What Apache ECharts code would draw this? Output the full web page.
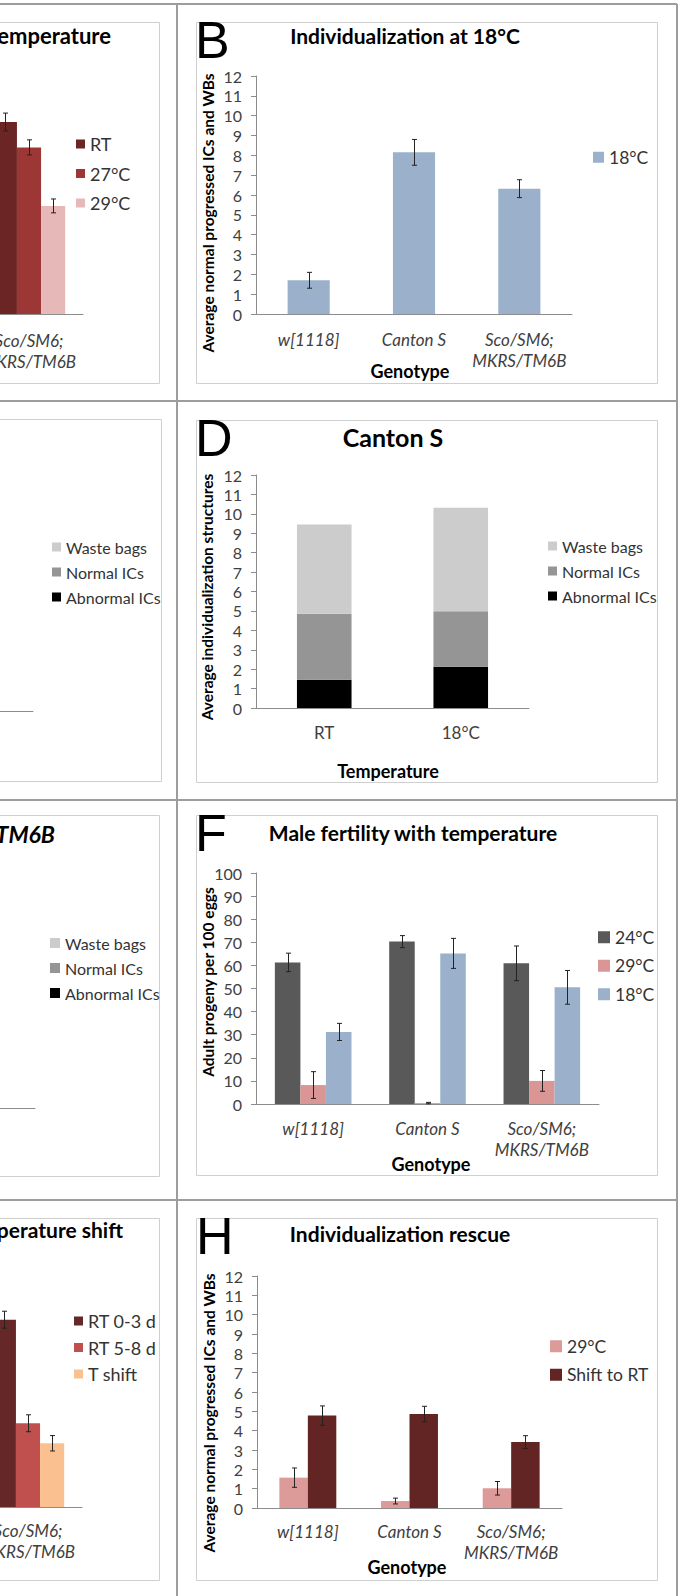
<!DOCTYPE html>
<html><head><meta charset="utf-8">
<script src="https://cdn.jsdelivr.net/npm/echarts@6/dist/echarts.min.js"></script>
<style>
html,body{margin:0;padding:0;background:#fff;width:694px;height:1596px;overflow:hidden;position:relative;}
.p{position:absolute;left:0;top:0;width:694px;height:1596px;}
</style></head><body>
<div id="bg" class="p"></div>
<div id="pA" class="p"></div><div id="pB" class="p"></div>
<div id="pC" class="p"></div><div id="pD" class="p"></div>
<div id="pE" class="p"></div><div id="pF" class="p"></div>
<div id="pG" class="p"></div><div id="pH" class="p"></div>
<script>
// ---------- data ----------
const genotypes = ['w[1118]', 'Canton S', 'Sco/SM6;\nMKRS/TM6B'];
const temperatures = ['RT', '18°C'];
const countAxis = [0, 12, 1];      // min, max, step
const fertAxis = [0, 100, 10];

// A (only last group visible)
const A_RT = [null, null, 9.68], A_RT_err = [null, null, 0.45];
const A_27 = [null, null, 8.4],  A_27_err = [null, null, 0.38];
const A_29 = [null, null, 5.45], A_29_err = [null, null, 0.35];
// B
const B_18 = [1.7, 8.15, 6.32], B_18_err = [0.4, 0.65, 0.45];
// C (bars not visible)
const C_abn = [null, null], C_norm = [null, null], C_waste = [null, null];
// D
const D_abn = [1.45, 2.13], D_norm = [3.41, 2.85], D_waste = [4.59, 5.33];
// E (bars not visible)
const E_abn = [null, null], E_norm = [null, null], E_waste = [null, null];
// F
const F_24 = [61.3, 70.3, 60.9], F_24_err = [4.0, 2.6, 7.5];
const F_29 = [8.2, 0.4, 10.0],   F_29_err = [5.8, 0.3, 4.5];
const F_18 = [31.2, 65.2, 50.5], F_18_err = [3.7, 6.5, 7.3];
// G (only last group visible)
const G_03 = [null, null, 9.73], G_03_err = [null, null, 0.44];
const G_58 = [null, null, 4.35], G_58_err = [null, null, 0.44];
const G_ts = [null, null, 3.31], G_ts_err = [null, null, 0.40];
// H
const H_29 = [1.57, 0.36, 1.02], H_29_err = [0.5, 0.15, 0.35];
const H_sh = [4.78, 4.86, 3.41], H_sh_err = [0.5, 0.4, 0.33];

// ---------- helpers ----------
const FONT = 'Lato, "Open Sans", "DejaVu Sans", sans-serif';
const LETTER_FONT = '"Liberation Sans Narrow", "Liberation Sans", Arial, sans-serif';
const AX = '#8c8c8c', TXT = '#404040';

function errRenderer(k, n, gap) {
  return function (params, api) {
    const ci = api.value(0), m = api.value(1), e = api.value(2);
    const c = api.coord([ci, m]);
    const cw = api.size([1, 0])[0];
    const band = cw * (1 - gap), bw = band / n;
    const x = Math.round(c[0] - band / 2 + bw * (k + 0.5)) + 0.5;
    const yt = api.coord([ci, m + e])[1], yb = api.coord([ci, m - e])[1];
    const st = { stroke: '#222', lineWidth: 1 };
    return { type: 'group', children: [
      { type: 'line', shape: { x1: x, y1: yt, x2: x, y2: yb }, style: st },
      { type: 'line', shape: { x1: x - 2.5, y1: yt, x2: x + 2.5, y2: yt }, style: st },
      { type: 'line', shape: { x1: x - 2.5, y1: yb, x2: x + 2.5, y2: yb }, style: st }
    ]};
  };
}

// Left-column panels are cut by the figure edge: their canvas starts DX px left of the page.
const DX = 400;

function makePanel(id, c) {
  const dx = c.left ? DX : 0;
  const el = document.getElementById(id);
  const W = c.left ? 177 + DX : 694;
  el.style.left = (-dx) + 'px';
  el.style.width = W + 'px';
  const chart = echarts.init(el, null, { renderer: 'svg', width: W, height: 1596 });
  const n = c.stack ? 1 : c.series.length;
  const series = [];
  c.series.forEach(s => {
    series.push({ type: 'bar', name: s.name, data: s.data, stack: c.stack ? 'all' : null,
      barGap: '0%', barCategoryGap: Math.round(c.gap * 100) + '%',
      itemStyle: { color: s.color }, silent: true });
  });
  c.series.forEach((s, k) => {
    if (!s.err) return;
    const d = [];
    s.data.forEach((v, i) => { if (v != null && s.err[i] != null) d.push([i, v, s.err[i]]); });
    series.push({ type: 'custom', data: d, z: 5, silent: true, renderItem: errRenderer(k, n, c.gap) });
  });
  const g = [];
  const b = c.box;
  g.push({ type: 'rect', shape: { x: b[0] + dx + 0.5, y: b[1] + 0.5, width: b[2] - b[0], height: b[3] - b[1] },
    style: { fill: 'none', stroke: '#cfcfcf', lineWidth: 1 }, z: -1 });
  if (c.letter) g.push({ type: 'text', x: c.letter.x + dx, y: c.letter.y,
    style: { text: c.letter.text, font: '52px ' + LETTER_FONT, fill: '#000', align: 'left', verticalAlign: 'middle' } });
  if (c.title) g.push({ type: 'text', x: c.title.x + dx, y: c.title.y,
    style: { text: c.title.text, font: (c.title.italic ? 'italic ' : '') + 'bold ' + c.title.size + 'px ' + FONT,
      fill: '#000', align: c.title.align || 'center', verticalAlign: 'middle' } });
  if (c.yName) g.push({ type: 'text', x: c.yName.x + dx, y: c.yName.y, rotation: Math.PI / 2,
    style: { text: c.yName.text, font: 'bold 15.5px ' + FONT, fill: '#000', align: 'center', verticalAlign: 'middle' } });
  if (c.xName) g.push({ type: 'text', x: c.xName.x + dx, y: c.xName.y,
    style: { text: c.xName.text, font: 'bold 18px ' + FONT, fill: '#000', align: 'center', verticalAlign: 'middle' } });
  const L = c.legend;
  // in cut-off panels only the labels that fall inside the figure are drawn
  const shownCats = c.shownCats;
  chart.setOption({
    animation: false,
    grid: { left: c.grid[0] + dx, top: c.grid[1], width: c.grid[2], height: c.grid[3], containLabel: false },
    xAxis: { type: 'category', data: c.cats,
      axisLine: { lineStyle: { color: AX } },
      axisTick: { length: 5, lineStyle: { color: AX } },
      axisLabel: { show: !shownCats || shownCats.length > 0,
        formatter: (v, i) => (!shownCats || shownCats.indexOf(i) >= 0) ? v : '',
        margin: c.labelMargin, interval: 0, fontFamily: FONT, fontSize: 17, lineHeight: 21,
        fontStyle: c.italic ? 'italic' : 'normal', color: TXT } },
    yAxis: { type: 'value', min: c.axis[0], max: c.axis[1], interval: c.axis[2],
      splitLine: { show: false },
      axisLine: { show: true, lineStyle: { color: AX } },
      axisTick: { show: true, length: 5, lineStyle: { color: AX } },
      axisLabel: { show: !c.left, margin: 14, fontFamily: FONT, fontSize: 16, color: TXT } },
    legend: { orient: 'vertical', left: L.left + dx, top: L.first - L.font / 2, padding: 0,
      itemWidth: L.size, itemHeight: L.size, itemGap: L.spacing - L.font, icon: 'rect',
      selectedMode: false, data: c.legendOrder || c.series.map(s => s.name),
      textStyle: { fontFamily: FONT, fontSize: L.font, color: '#333' } },
    graphic: g,
    series: series
  });
}

// ---------- background cell lines ----------
const bg = echarts.init(document.getElementById('bg'), null, { renderer: 'svg', width: 694, height: 1596 });
const cellLines = [[0, 4, 677, 4], [0, 401, 677, 401], [0, 800, 677, 800], [0, 1200, 677, 1200],
  [177, 4, 177, 1596], [677, 4, 677, 1596]];
bg.setOption({ animation: false, graphic: cellLines.map(l => ({ type: 'line',
  shape: { x1: l[0], y1: l[1], x2: l[2], y2: l[3] }, style: { stroke: '#9d9d9d', lineWidth: 2 } })) });

// ---------- panels ----------
makePanel('pA', { left: true, shownCats: [2], grid: [-241, 76, 324, 238], axis: countAxis, cats: genotypes, italic: true, labelMargin: 15.5, gap: 0.33,
  series: [{ name: 'RT', data: A_RT, err: A_RT_err, color: '#6a2524' },
           { name: '27°C', data: A_27, err: A_27_err, color: '#9c3736' },
           { name: '29°C', data: A_29, err: A_29_err, color: '#e6b9b8' }],
  legend: { left: 76, first: 144, spacing: 29.5, size: 9, font: 18 },
  title: { text: 'temperature', x: 111, y: 35, align: 'right', size: 22 },
  box: [-20, 22, 159, 383] });

makePanel('pB', { grid: [256, 76, 316, 238], axis: countAxis, cats: genotypes, italic: true, labelMargin: 14.5, gap: 0.6,
  series: [{ name: '18°C', data: B_18, err: B_18_err, color: '#9bb0cb' }],
  legend: { left: 593, first: 157, spacing: 28, size: 11, font: 17.5 },
  title: { text: 'Individualization at 18°C', x: 405, y: 35, size: 21 },
  letter: { text: 'B', x: 195, y: 40 },
  yName: { text: 'Average normal progressed ICs and WBs', x: 208, y: 213 },
  xName: { text: 'Genotype', x: 410, y: 371 },
  box: [196, 22, 657, 383] });

makePanel('pC', { left: true, shownCats: [], grid: [-239, 478, 272, 233], axis: countAxis, cats: temperatures, italic: false, labelMargin: 16.5, gap: 0.6, stack: true,
  series: [{ name: 'Abnormal ICs', data: C_abn, color: '#000000' },
           { name: 'Normal ICs', data: C_norm, color: '#959595' },
           { name: 'Waste bags', data: C_waste, color: '#cccccc' }],
  legendOrder: ['Waste bags', 'Normal ICs', 'Abnormal ICs'],
  legend: { left: 52, first: 547, spacing: 25, size: 9, font: 16 },
  box: [-20, 419, 161, 781] });

makePanel('pD', { grid: [256, 475, 273, 233], axis: countAxis, cats: temperatures, italic: false, labelMargin: 13.5, gap: 0.6, stack: true,
  series: [{ name: 'Abnormal ICs', data: D_abn, color: '#000000' },
           { name: 'Normal ICs', data: D_norm, color: '#959595' },
           { name: 'Waste bags', data: D_waste, color: '#cccccc' }],
  legendOrder: ['Waste bags', 'Normal ICs', 'Abnormal ICs'],
  legend: { left: 548, first: 546, spacing: 25, size: 9, font: 16 },
  title: { text: 'Canton S', x: 393, y: 437, size: 25 },
  letter: { text: 'D', x: 195, y: 438 },
  yName: { text: 'Average individualization structures', x: 207, y: 597 },
  xName: { text: 'Temperature', x: 388, y: 771 },
  box: [196, 420, 657, 782] });

makePanel('pE', { left: true, shownCats: [], grid: [-237, 875, 272, 233], axis: countAxis, cats: temperatures, italic: false, labelMargin: 16.5, gap: 0.6, stack: true,
  series: [{ name: 'Abnormal ICs', data: E_abn, color: '#000000' },
           { name: 'Normal ICs', data: E_norm, color: '#959595' },
           { name: 'Waste bags', data: E_waste, color: '#cccccc' }],
  legendOrder: ['Waste bags', 'Normal ICs', 'Abnormal ICs'],
  legend: { left: 50, first: 943, spacing: 25, size: 10, font: 16 },
  title: { text: 'MKRS/TM6B', x: 55, y: 834, align: 'right', size: 23, italic: true },
  box: [-20, 815, 159, 1176] });

makePanel('pF', { grid: [256, 873, 343, 231], axis: fertAxis, cats: genotypes, italic: true, labelMargin: 13.5, gap: 0.33,
  series: [{ name: '24°C', data: F_24, err: F_24_err, color: '#595959' },
           { name: '29°C', data: F_29, err: F_29_err, color: '#d99695' },
           { name: '18°C', data: F_18, err: F_18_err, color: '#9bb0cb' }],
  legend: { left: 598, first: 937, spacing: 28, size: 12, font: 17.5 },
  title: { text: 'Male fertility with temperature', x: 413, y: 832, size: 21 },
  letter: { text: 'F', x: 195, y: 833 },
  yName: { text: 'Adult progeny per 100 eggs', x: 208, y: 982 },
  xName: { text: 'Genotype', x: 431, y: 1164 },
  box: [196, 815, 657, 1175] });

makePanel('pG', { left: true, shownCats: [2], grid: [-242, 1276, 324, 231], axis: countAxis, cats: genotypes, italic: true, labelMargin: 12.5, gap: 0.33,
  series: [{ name: 'RT 0-3 d', data: G_03, err: G_03_err, color: '#652727' },
           { name: 'RT 5-8 d', data: G_58, err: G_58_err, color: '#c0504d' },
           { name: 'T shift', data: G_ts, err: G_ts_err, color: '#fac090' }],
  legend: { left: 74, first: 1321, spacing: 26.5, size: 9, font: 18 },
  title: { text: 'temperature shift', x: 123, y: 1229, align: 'right', size: 21 },
  box: [-20, 1218, 159, 1580] });

makePanel('pH', { grid: [257, 1276, 305, 232], axis: countAxis, cats: genotypes, italic: true, labelMargin: 12.5, gap: 0.44,
  series: [{ name: '29°C', data: H_29, err: H_29_err, color: '#dc9a99' },
           { name: 'Shift to RT', data: H_sh, err: H_sh_err, color: '#632523' }],
  legend: { left: 550, first: 1346, spacing: 28, size: 12, font: 17.5 },
  title: { text: 'Individualization rescue', x: 400, y: 1233, size: 21 },
  letter: { text: 'H', x: 196, y: 1236 },
  yName: { text: 'Average normal progressed ICs and WBs', x: 209, y: 1413 },
  xName: { text: 'Genotype', x: 407, y: 1567 },
  box: [196, 1218, 657, 1580] });
</script>
</body></html>
